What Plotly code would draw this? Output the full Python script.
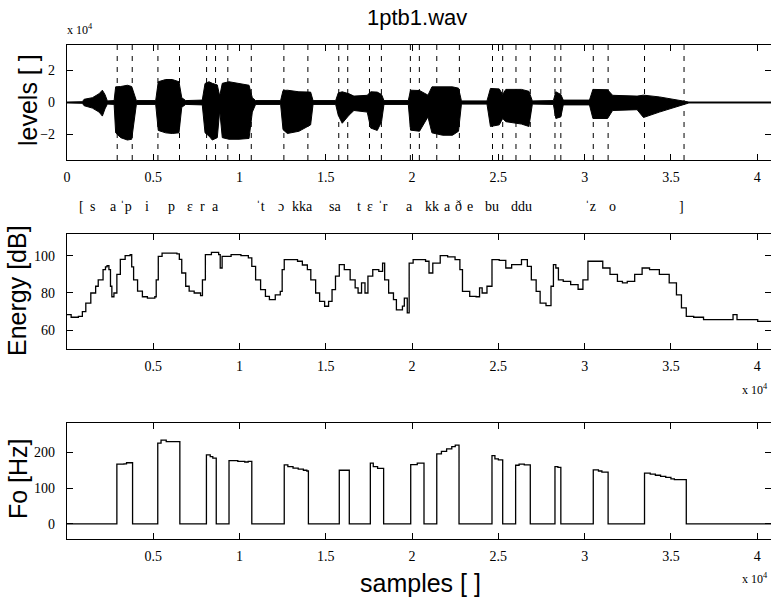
import plotly.graph_objects as go

W, H = 771, 599
ML = 67

# x values are in units of 10^4 samples
wave_x = [0.0, 0.089, 0.099, 0.147, 0.186, 0.205, 0.220, 0.234, 0.273, 0.282, 0.311, 0.350,
          0.375, 0.388, 0.402, 0.514, 0.529, 0.572, 0.610, 0.649, 0.665, 0.688, 0.784, 0.800,
          0.823, 0.842, 0.871, 0.885, 0.900, 0.939, 0.997, 1.055, 1.074, 1.093, 1.238, 1.252,
          1.277, 1.344, 1.412, 1.426, 1.557, 1.572, 1.595, 1.634, 1.663, 1.740, 1.760, 1.798,
          1.823, 1.837, 1.978, 1.991, 2.043, 2.092, 2.115, 2.177, 2.234, 2.269, 2.286, 2.434,
          2.454, 2.505, 2.525, 2.543, 2.634, 2.677, 2.697, 2.819, 2.833, 2.862, 2.876, 3.028,
          3.048, 3.133, 3.162, 3.304, 3.341, 3.433, 3.518, 3.604, 4.08]
wave_hi = [0.03, 0.05, 0.2, 0.3, 0.55, 0.77, 0.5, 0.1, 0.12, 0.98, 1.0, 1.08,
           1.0, 0.5, 0.12, 0.12, 1.3, 1.44, 1.44, 1.3, 0.3, 0.12, 0.15, 1.19,
           1.3, 1.2, 1.1, 0.4, 1.2, 1.3, 1.2, 1.08, 0.3, 0.12, 0.12, 0.75,
           0.77, 0.67, 0.65, 0.12, 0.12, 0.6, 0.67, 0.55, 0.4, 0.45, 0.67, 0.65,
           0.5, 0.12, 0.12, 0.77, 0.75, 0.46, 0.98, 1.0, 0.98, 0.9, 0.1, 0.1,
           0.88, 0.85, 0.5, 0.82, 0.82, 0.7, 0.1, 0.12, 0.67, 0.5, 0.15, 0.15,
           0.82, 0.8, 0.45, 0.4, 0.46, 0.35, 0.2, 0.03, 0.03]
wave_lo = [-0.03, -0.05, -0.2, -0.35, -0.6, -0.85, -0.4, -0.1, -0.12, -1.9, -2.2, -2.35,
           -2.3, -1.2, -0.12, -0.12, -1.75, -1.9, -1.94, -1.9, -0.3, -0.12, -0.15, -1.9,
           -2.1, -2.35, -2.2, -0.5, -2.2, -2.3, -2.3, -2.25, -0.6, -0.12, -0.12, -1.7,
           -1.94, -1.8, -1.4, -0.12, -0.12, -0.8, -1.3, -0.8, -0.5, -0.6, -1.6, -1.75,
           -1.2, -0.12, -0.12, -1.73, -1.8, -0.9, -1.9, -2.05, -2.05, -1.8, -0.1, -0.1,
           -1.5, -1.4, -1.0, -1.2, -1.35, -1.5, -0.1, -0.12, -1.0, -0.9, -0.15, -0.15,
           -1.0, -1.0, -0.5, -0.45, -0.94, -0.6, -0.3, -0.03, -0.03]

boundaries = [0.291, 0.378, 0.527, 0.652, 0.809, 0.861, 0.932, 1.068, 1.257, 1.396,
              1.575, 1.627, 1.753, 1.822, 1.990, 2.042, 2.143, 2.274, 2.466, 2.525,
              2.602, 2.685, 2.828, 2.862, 3.050, 3.136, 3.347, 3.576]

ipa_txt = ["[", "s", "a", "ˈp", "i", "p", "ɛ", "r", "a", "ˈt", "ɔ", "kka", "sa",
           "t", "ɛ", "ˈr", "a", "kk", "a", "ð", "e", "bu", "ddu", "ˈz", "o", "]"]
ipa_x = [0.085, 0.150, 0.271, 0.340, 0.462, 0.607, 0.711, 0.786, 0.862, 1.122, 1.238,
         1.366, 1.551, 1.690, 1.754, 1.829, 1.986, 2.113, 2.205, 2.269, 2.333, 2.461,
         2.634, 3.034, 3.161, 3.561]

energy_x = [0.0, 0.024, 0.066, 0.089, 0.109, 0.138, 0.166, 0.181, 0.209, 0.223, 0.232,
            0.243, 0.252, 0.260, 0.272, 0.289, 0.309, 0.337, 0.366, 0.375, 0.386, 0.409,
            0.437, 0.466, 0.509, 0.517, 0.529, 0.551, 0.637, 0.651, 0.665, 0.688, 0.708,
            0.737, 0.774, 0.785, 0.802, 0.837, 0.879, 0.888, 0.899, 0.951, 1.008, 1.051,
            1.071, 1.093, 1.122, 1.150, 1.173, 1.207, 1.236, 1.247, 1.259, 1.293, 1.336,
            1.364, 1.393, 1.413, 1.441, 1.464, 1.493, 1.516, 1.536, 1.556, 1.578, 1.607,
            1.641, 1.670, 1.687, 1.707, 1.727, 1.744, 1.772, 1.807, 1.829, 1.841, 1.864,
            1.892, 1.909, 1.944, 1.955, 1.972, 1.983, 2.006, 2.049, 2.078, 2.098, 2.120,
            2.163, 2.206, 2.249, 2.277, 2.292, 2.334, 2.371, 2.391, 2.406, 2.434, 2.463,
            2.505, 2.543, 2.577, 2.634, 2.668, 2.691, 2.719, 2.742, 2.776, 2.805, 2.819,
            2.833, 2.848, 2.876, 2.919, 2.962, 2.990, 3.019, 3.062, 3.105, 3.147, 3.190,
            3.219, 3.247, 3.290, 3.333, 3.376, 3.433, 3.490, 3.532, 3.561, 3.589, 3.632,
            3.689, 3.775, 3.832, 3.860, 3.883, 3.946, 4.003, 4.08]
energy_db = [68.4, 67.0, 67.5, 70.0, 74.6, 80.0, 83.6, 87.0, 92.5, 94.0, 94.6,
             92.5, 83.6, 78.0, 80.0, 90.0, 98.0, 100.0, 100.5, 94.0, 87.0, 81.0,
             78.0, 77.3, 78.0, 87.0, 99.6, 101.4, 101.0, 98.0, 90.7, 83.6, 81.0,
             80.0, 78.6, 87.0, 100.5, 101.8, 100.5, 93.4, 99.6, 100.5, 100.0, 98.8,
             94.3, 87.0, 81.8, 78.2, 76.4, 79.0, 80.9, 92.5, 97.9, 97.9, 97.0,
             95.0, 92.5, 87.0, 80.0, 75.5, 72.9, 75.5, 81.8, 89.0, 95.2, 92.5,
             87.0, 82.7, 80.0, 85.4, 80.0, 89.0, 92.5, 91.6, 96.0, 87.0, 80.0,
             76.4, 71.0, 73.0, 77.3, 69.3, 96.0, 97.9, 97.9, 97.0, 90.7, 96.0,
             100.0, 99.3, 97.9, 92.5, 80.9, 78.2, 78.0, 82.7, 80.0, 83.6, 97.9,
             97.5, 93.4, 95.2, 97.9, 94.3, 87.0, 80.9, 74.6, 73.2, 83.6, 95.2,
             93.4, 87.0, 86.2, 84.5, 82.0, 87.0, 97.0, 97.0, 93.4, 90.0, 86.2,
             85.4, 86.2, 90.0, 93.4, 92.5, 90.0, 85.4, 79.0, 72.0, 67.5, 67.0,
             65.7, 65.7, 65.7, 68.4, 65.7, 65.7, 64.8, 64.8]

f0_x = [0.0, 0.289, 0.330, 0.345, 0.380, 0.526, 0.545, 0.575, 0.654, 0.808, 0.830, 0.845,
        0.865, 0.939, 0.990, 1.030, 1.050, 1.071, 1.259, 1.280, 1.310, 1.340, 1.370, 1.390,
        1.399, 1.578, 1.636, 1.758, 1.775, 1.800, 1.835, 1.992, 2.030, 2.069, 2.143, 2.170,
        2.200, 2.230, 2.250, 2.272, 2.463, 2.480, 2.500, 2.525, 2.600, 2.620, 2.650, 2.685,
        2.828, 2.845, 2.862, 3.050, 3.080, 3.100, 3.136, 3.347, 3.380, 3.410, 3.440, 3.470,
        3.500, 3.520, 3.589, 4.08]
f0_hz = [0, 167, 168, 171, 0, 226, 234, 230, 0, 193, 188, 184,
         0, 177, 175, 173, 175, 0, 165, 160, 156, 153, 150, 148,
         0, 150, 0, 170, 160, 155, 0, 166, 170, 0, 196, 203,
         210, 216, 220, 0, 191, 182, 179, 0, 164, 167, 165, 0,
         160, 158, 0, 151, 148, 145, 0, 142, 139, 136, 133, 130,
         126, 124, 0, 0]

XRANGE = [0, 4.08]
SERIF = "Liberation Serif"
SANS = "Liberation Sans"


def dom(top_px, bottom_px):
    return [1 - bottom_px / H, 1 - top_px / H]


def paper_x(px):
    return (px - ML) / (W - ML)


def paper_y(py):
    return 1 - py / H


fig = go.Figure()

# waveform as a filled envelope
fig.add_trace(go.Scatter(
    x=wave_x + wave_x[::-1], y=wave_hi + wave_lo[::-1],
    fill="toself", fillcolor="black", mode="lines",
    line=dict(color="black", width=1), xaxis="x", yaxis="y", hoverinfo="skip"))

# segment boundaries
bx, by = [], []
for b in boundaries:
    bx += [b, b, None]
    by += [-3.6, 3.6, None]
fig.add_trace(go.Scatter(x=bx, y=by, mode="lines",
                         line=dict(color="black", width=1, dash="5px,6px"),
                         xaxis="x", yaxis="y"))

fig.add_trace(go.Scatter(x=energy_x, y=energy_db, mode="lines", line_shape="hv",
                         line=dict(color="black", width=1.3), xaxis="x2", yaxis="y2"))

fig.add_trace(go.Scatter(x=f0_x, y=f0_hz, mode="lines", line_shape="hv",
                         line=dict(color="black", width=1.3), xaxis="x3", yaxis="y3"))

axis_common = dict(showline=True, linecolor="black", linewidth=1.3, mirror="ticks",
                   ticks="inside", ticklen=6, tickcolor="black", tickwidth=1,
                   showgrid=False, zeroline=False,
                   tickfont=dict(family=SERIF, size=14, color="black"))

xt_all = [0, 0.5, 1, 1.5, 2, 2.5, 3, 3.5, 4]
xt_no0 = xt_all[1:]

fig.update_layout(
    width=W, height=H,
    margin=dict(l=ML, r=0, t=0, b=0),
    paper_bgcolor="white", plot_bgcolor="white",
    showlegend=False,
    xaxis=dict(axis_common, domain=[0, 1], range=XRANGE, anchor="y",
               tickvals=xt_all, ticklabelstandoff=4),
    yaxis=dict(axis_common, domain=dom(45, 160), range=[-3.6, 3.6], anchor="x",
               tickvals=[-2, 0, 2], ticklabelstandoff=8),
    xaxis2=dict(axis_common, domain=[0, 1], range=XRANGE, anchor="y2",
                tickvals=xt_no0, ticklabelstandoff=4),
    yaxis2=dict(axis_common, domain=dom(234, 349), range=[50, 111.6], anchor="x2",
                tickvals=[60, 80, 100], ticklabelstandoff=8),
    xaxis3=dict(axis_common, domain=[0, 1], range=XRANGE, anchor="y3",
                tickvals=xt_no0, ticklabelstandoff=4),
    yaxis3=dict(axis_common, domain=dom(423, 539), range=[-42, 282], anchor="x3",
                tickvals=[0, 100, 200], ticklabelstandoff=8),
)


def label(txt, px, py, size, family, angle=0, xref="paper", x=None):
    return dict(text=txt, x=paper_x(px) if x is None else x, y=paper_y(py),
                xref=xref, yref="paper", xanchor="center", yanchor="middle",
                textangle=angle, showarrow=False,
                font=dict(family=family, size=size, color="black"))


ann = [label("1ptb1.wav", 417, 18, 22, SANS)]
for txt, px, py in [("levels [ ]", 28, 100), ("Energy [dB]", 17, 290), ("Fo [Hz]", 18, 479)]:
    ann.append(label(txt, px, py, 25, SANS, angle=-90))
ann.append(label("samples [ ]", 420, 583, 25, SANS))
for px, py in [(80, 29), (755, 390), (755, 578)]:
    ann.append(label("x 10<sup>4</sup>", px, py, 12, SERIF))
for txt, xv in zip(ipa_txt, ipa_x):
    ann.append(label(txt, 0, 207, 14, SERIF, xref="x", x=xv))
fig.update_layout(annotations=ann)

# the page is photographed at 771x599: drop the default body margin
fig.write_html("out.html", config={"displayModeBar": False},
               post_script="document.body.style.margin='0';")
